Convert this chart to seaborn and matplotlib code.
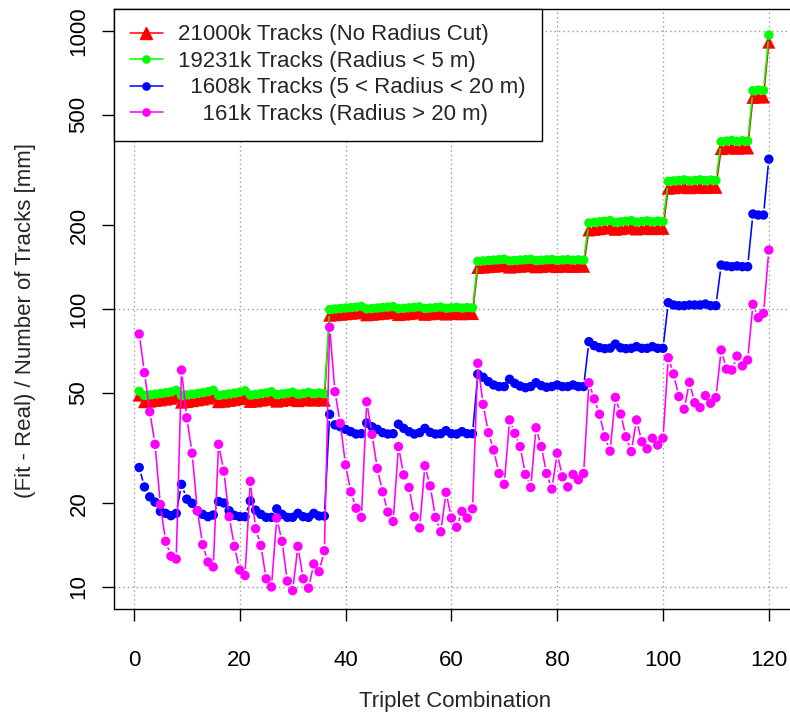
import numpy as np
import matplotlib
matplotlib.use("Agg")
import matplotlib.pyplot as plt
import seaborn as sns
from matplotlib.lines import Line2D
from matplotlib.collections import LineCollection
from matplotlib.ticker import FixedLocator, FixedFormatter

# ---------------- data ----------------
triplet = list(range(1, 121))

no_cut = [49.0, 46.4, 46.6, 46.9, 47.1, 47.4, 47.7, 48.4,
          46.2, 46.5, 46.8, 47.1, 47.4, 47.8, 48.4,
          46.4, 46.6, 46.9, 47.2, 47.6, 48.2,
          46.5, 46.7, 47.0, 47.3, 47.8,
          46.6, 46.9, 47.2, 47.6,
          46.8, 47.1, 47.5,
          47.0, 47.3,
          47.0,
          95.0, 95.3, 95.7, 96.1, 96.5, 96.9, 97.5,
          95.3, 95.7, 96.1, 96.5, 96.9, 97.3,
          95.5, 95.9, 96.3, 96.7, 97.1,
          95.7, 96.1, 96.5, 96.9,
          95.9, 96.3, 96.7,
          96.1, 96.5,
          96.3,
          141.0, 141.5, 142.0, 142.5, 143.0, 143.5,
          141.5, 142.0, 142.5, 143.0, 143.5,
          141.8, 142.3, 142.8, 143.3,
          142.1, 142.6, 143.1,
          142.3, 142.8,
          142.5,
          192.5, 193.5, 194.5, 195.5, 196.5,
          193.5, 194.5, 195.5, 196.5,
          194.0, 195.0, 196.0,
          194.5, 195.5,
          195.0,
          272.0, 273.0, 274.0, 275.5, 273.0, 274.0, 275.5, 273.5, 275.0, 274.0,
          377.5, 379.5, 381.5, 378.5, 380.5, 379.5,
          577.0, 580.0, 579.0,
          912.0]

radius_lt5 = [50.6, 48.9, 49.1, 49.4, 49.7, 50.0, 50.3, 51.0,
              48.8, 49.1, 49.4, 49.7, 50.0, 50.4, 51.0,
              48.9, 49.2, 49.5, 49.8, 50.2, 50.8,
              49.0, 49.3, 49.6, 49.9, 50.4,
              49.2, 49.5, 49.8, 50.2,
              49.4, 49.7, 50.1,
              49.6, 49.9,
              49.6,
              99.5, 100.0, 100.4, 100.8, 101.2, 101.6, 102.2,
              100.0, 100.4, 100.8, 101.2, 101.6, 102.0,
              100.2, 100.6, 101.0, 101.4, 101.8,
              100.4, 100.8, 101.2, 101.6,
              100.6, 101.0, 101.4,
              100.8, 101.2,
              101.0,
              148.5, 149.0, 149.5, 150.0, 150.5, 151.0,
              149.0, 149.5, 150.0, 150.5, 151.0,
              149.3, 149.8, 150.3, 150.8,
              149.6, 150.1, 150.6,
              149.8, 150.3,
              150.0,
              204.0, 205.0, 206.0, 207.0, 208.0,
              205.0, 206.0, 207.0, 208.0,
              205.5, 206.5, 207.5,
              206.0, 207.0,
              206.5,
              288.0, 289.0, 290.0, 291.5, 289.0, 290.0, 291.5, 289.5, 291.0, 290.0,
              400.0, 402.0, 404.0, 401.0, 403.0, 402.0,
              610.0, 613.0, 612.0,
              967.0]

radius_5_20 = [26.9, 22.9, 21.1, 20.2, 18.7, 18.4, 18.05, 18.4,
               23.4, 20.7, 20.0, 18.8, 18.25, 17.9, 18.15,
               20.3, 20.05, 18.8, 18.1, 17.9, 17.9,
               20.4, 18.9, 18.25, 17.8, 17.8,
               19.1, 18.25, 17.8, 17.8,
               18.4, 17.9, 17.8,
               18.4, 18.0,
               18.0,
               41.8, 38.3, 37.7, 36.9, 36.2, 35.5, 35.6,
               38.9, 37.7, 36.9, 35.9, 35.5, 35.6,
               38.5, 37.2, 36.2, 35.5, 35.9,
               37.2, 36.0, 35.5, 35.6,
               36.5, 35.6, 35.5,
               36.2, 35.6,
               35.6,
               58.3, 56.8, 54.8, 53.3, 52.6, 52.6,
               55.9, 54.0, 52.8, 52.1, 52.6,
               54.3, 53.0, 52.3, 52.6,
               53.3, 52.6, 52.6,
               53.3, 52.6,
               52.6,
               76.3, 73.8, 72.6, 72.0, 72.3,
               74.8, 72.5, 72.0, 72.2,
               73.2, 72.2, 72.2,
               73.2, 72.2,
               72.2,
               105.4, 103.4, 102.8, 102.8, 103.4, 103.4, 103.4, 104.2, 102.8, 102.8,
               143.9, 142.8, 142.0, 142.8, 142.0, 142.0,
               219.7, 217.8, 217.8,
               346.0]

radius_gt20 = [81.3, 59.0, 42.7, 32.6, 19.8, 14.6, 12.9, 12.6,
               60.3, 40.6, 30.3, 18.8, 14.2, 12.3, 11.8,
               32.6, 26.1, 17.9, 14.0, 11.5, 11.0,
               24.0, 16.2, 14.1, 10.7, 10.0,
               17.7, 14.6, 10.5, 9.7,
               14.0, 10.7, 9.9,
               12.1, 11.35,
               13.5,
               86.0, 50.4, 38.8, 27.5, 22.0, 19.2, 17.8,
               46.4, 35.4, 26.7, 22.0, 18.6, 17.2,
               32.0, 25.3, 22.8, 17.9, 16.3,
               27.3, 23.1, 17.8, 15.8,
               21.9, 17.7, 16.4,
               18.7, 17.7,
               19.1,
               63.8, 45.4, 35.9, 31.1, 25.6, 23.4,
               39.9, 35.7, 32.0, 25.4, 22.8,
               37.4, 32.0, 25.6, 22.5,
               30.3, 24.9, 22.9,
               25.4, 24.3,
               25.6,
               54.3, 47.5, 41.8, 34.7, 30.8,
               48.1, 41.9, 34.7, 30.7,
               39.9, 33.3, 31.4,
               34.3, 32.4,
               34.3,
               66.8, 58.4, 48.4, 43.6, 54.5, 46.0, 44.2, 48.8, 45.8, 48.0,
               71.2, 60.8, 60.3, 67.7, 62.4, 65.5,
               104.0, 93.0, 96.5,
               163.0]

series_labels = ["21000k Tracks (No Radius Cut)",
                 "19231k Tracks (Radius < 5 m)",
                 "  1608k Tracks (5 < Radius < 20 m)",
                 "    161k Tracks (Radius > 20 m)"]
series_colors = ["#FF0000", "#00FF00", "#0000FF", "#FF00FF"]
series_markers = ["^", "o", "o", "o"]

x_ticks = [0, 20, 40, 60, 80, 100, 120]
y_major = [10, 100, 1000]
y_minor = [20, 50, 200, 500]

# ---------------- figure ----------------
sns.set_style("white")
plt.rcParams["font.family"] = ["Liberation Sans", "DejaVu Sans"]
FS = 16

W, H = 790, 713
fig = plt.figure(figsize=(W / 100, H / 100), dpi=100)
ax_left, ax_right, ax_top, ax_bottom = 114, 794, 8.8, 609.2
ax = fig.add_axes([ax_left / W, (H - ax_bottom) / H,
                   (ax_right - ax_left) / W, (ax_bottom - ax_top) / H])
ax.set_yscale("log")
ax.set_xlim(-3.76, 124.76)
ax.set_ylim(10 ** 0.92, 10 ** 3.08)

ax.xaxis.set_major_locator(FixedLocator(x_ticks))
ax.xaxis.set_major_formatter(FixedFormatter([str(t) for t in x_ticks]))
ax.yaxis.set_major_locator(FixedLocator(y_major))
ax.yaxis.set_major_formatter(FixedFormatter([str(t) for t in y_major]))
ax.yaxis.set_minor_locator(FixedLocator(y_minor))
ax.yaxis.set_minor_formatter(FixedFormatter([str(t) for t in y_minor]))

ax.grid(which="major", color="#9a9a9a", linestyle=(0, (1, 2.2)), linewidth=1.0, zorder=0)
ax.set_axisbelow(True)


def gap_lines(ax, xs, ys, color, z, gap=6.5):
    pts = ax.transData.transform(np.column_stack([xs, ys]))
    segs = []
    for p0, p1 in zip(pts[:-1], pts[1:]):
        d = p1 - p0
        L = np.hypot(d[0], d[1])
        if L > 2 * gap + 1:
            u = d / L
            segs.append(ax.transData.inverted().transform(np.array([p0 + u * gap, p1 - u * gap])))
    lc = LineCollection(segs, colors=color, linewidths=1.15, zorder=z)
    ax.add_collection(lc)


all_series = [no_cut, radius_lt5, radius_5_20, radius_gt20]
sizes = [88, 46, 46, 46]
for i, (vals, col, mk, s) in enumerate(zip(all_series, series_colors, series_markers, sizes)):
    gap_lines(ax, triplet, vals, col, 2 + 2 * i)
    sns.scatterplot(x=triplet, y=vals, ax=ax, color=col, marker=mk, s=s,
                    linewidth=0, edgecolor="none", zorder=3 + 2 * i, legend=False)

ax.set_xlim(-3.76, 124.76)
ax.set_ylim(10 ** 0.92, 10 ** 3.08)

for sp in ax.spines.values():
    sp.set_visible(True)
    sp.set_color("black")
    sp.set_linewidth(1.0)

ax.tick_params(axis="both", which="both", direction="out", length=8.6, width=1.0,
               color="black", labelsize=FS, labelcolor="black")
ax.tick_params(axis="x", which="both", pad=21, bottom=True)
ax.tick_params(axis="y", which="both", pad=9, left=True, labelrotation=90)
for lab in ax.get_yticklabels(which="both"):
    lab.set_verticalalignment("center")

ax.set_xlabel("Triplet Combination", fontsize=FS)
ax.set_ylabel("(Fit - Real) / Number of Tracks [mm]", fontsize=FS)
ax.xaxis.label.set_verticalalignment("center")
ax.yaxis.label.set_verticalalignment("center")
ax.xaxis.set_label_coords((455 - ax_left) / (ax_right - ax_left), -(701 - ax_bottom) / (ax_bottom - ax_top))
ax.yaxis.set_label_coords(-(ax_left - 26) / (ax_right - ax_left), (ax_bottom - 320) / (ax_bottom - ax_top))

handles = [Line2D([], [], color=c, marker=m, markersize=(9.0 if m == "^" else 5.2), lw=1.1)
           for c, m in zip(series_colors, series_markers)]
leg = ax.legend(handles, series_labels, loc="upper left", bbox_to_anchor=(0, 1),
                borderaxespad=0, fontsize=FS, frameon=True, fancybox=False,
                edgecolor="black", framealpha=1.0, borderpad=0.7,
                labelspacing=0.25, handlelength=1.5, handletextpad=0.7)
leg.get_frame().set_linewidth(1.0)
leg.set_zorder(20)

fig.savefig("out.png", dpi=100)
